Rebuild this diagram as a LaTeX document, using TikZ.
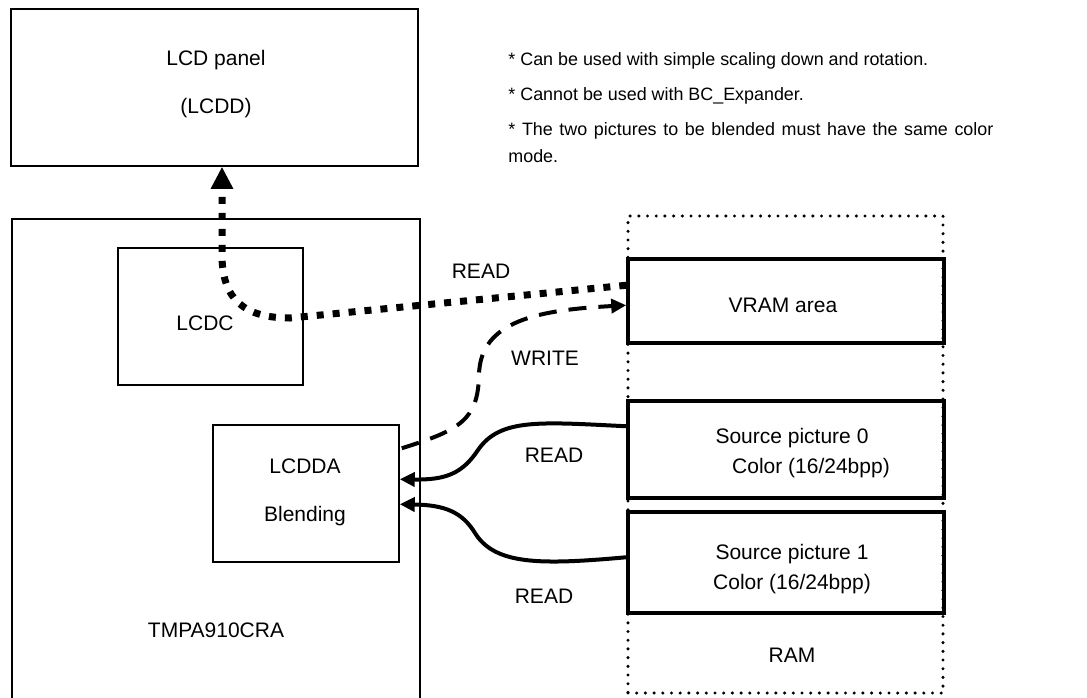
\documentclass[tikz,border=0pt]{standalone}
\usepackage{fontspec}
\setmainfont{Liberation Sans}
\usetikzlibrary{arrows.meta,fit}
\begin{document}
\begin{tikzpicture}[x=0.5pt,y=-0.5pt,
  thinbox/.style={draw, line width=0.75pt, inner sep=0pt},
  thickbox/.style={draw, line width=1.75pt, inner sep=0pt},
  rambox/.style={draw, line width=1.7pt, dash pattern=on 0pt off 4.35pt, line cap=round, inner sep=0pt},
  lbl/.style={font=\fontsize{10.5}{12}\selectfont, inner sep=0pt, anchor=base},
  note/.style={font=\fontsize{8.95}{10}\selectfont, inner sep=0pt, anchor=base west},
  readline/.style={line width=2pt, -{Triangle[length=7.5pt,width=7pt]}},
  writeline/.style={line width=2pt, dash pattern=on 9pt off 6pt, -{Triangle[length=7.5pt,width=7pt]}},
  lcdline/.style={line width=3.5pt, dash pattern=on 3.5pt off 4.5pt, -{Triangle[length=11pt,width=10.5pt]}},
]
\useasboundingbox (0,0) rectangle (1087,697);

% boxes
\node[thinbox, fit={(11,9) (418,166)}] (lcd) {};
\node[thinbox, fit={(12,219) (420,700)}] (tmpa) {};
\node[thinbox, fit={(118,248) (303,385)}] (lcdc) {};
\node[thinbox, fit={(213,425) (399,562)}] (lcdda) {};
\node[rambox, fit={(628,216) (943,693)}] (ram) {};
\node[thickbox, fit={(628,259) (944,343)}] (vram) {};
\node[thickbox, fit={(628,401) (944,498)}] (src0) {};
\node[thickbox, fit={(628,512) (944,613)}] (src1) {};

% labels
\node[lbl] (t-lcd1) at (216,65) {LCD panel};
\node[lbl] (t-lcd2) at (216,113) {(LCDD)};
\node[lbl] (t-lcdc) at (205,330) {LCDC};
\node[lbl] (t-lcdda) at (305,473) {LCDDA};
\node[lbl] (t-blend) at (305,521) {Blending};
\node[lbl] (t-tmpa) at (216,637) {TMPA910CRA};
\node[lbl] (t-vram) at (783,312) {VRAM area};
\node[lbl] (t-s0a) at (792,443) {Source picture 0};
\node[lbl] (t-s0b) at (811,473) {Color (16/24bpp)};
\node[lbl] (t-s1a) at (792,559) {Source picture 1};
\node[lbl] (t-s1b) at (792,589) {Color (16/24bpp)};
\node[lbl] (t-ram) at (792,662) {RAM};
\node[lbl] (t-read1) at (481,278) {READ};
\node[lbl] (t-write) at (545,365) {WRITE};
\node[lbl] (t-read2) at (554,462) {READ};
\node[lbl] (t-read3) at (544,603) {READ};

% notes
\node[note] (n1) at (508,65) {* Can be used with simple scaling down and rotation.};
\node[note] (n2) at (508,100) {* Cannot be used with BC\_Expander.};
\node[note] (n3) at (508,135) {\makebox[242.5pt][s]{* The two pictures to be blended must have the same color}};
\node[note] (n4) at (508,162) {mode.};

% connectors
\draw[lcdline] ([shift={(0,28)}]vram.north west) -- (290,318)
  .. controls (245,318) and (222,300) .. (222,255) -- ([shift={(7.5,0)}]lcd.south);
\draw[writeline] ([shift={(2,24)}]lcdda.north east)
  .. controls (460,430) and (478,420) .. (479,375)
  .. controls (480,320) and (540,310) .. ([shift={(0,48)}]vram.north west);
\draw[readline] ([shift={(0,27)}]src0.north west)
  .. controls (540,422) and (500,418) .. (478,450)
  .. controls (462,474) and (445,480) .. ([shift={(0,55)}]lcdda.north east);
\draw[readline] ([shift={(0,47)}]src1.north west)
  .. controls (540,565) and (495,565) .. (475,533)
  .. controls (462,512) and (445,505) .. ([shift={(0,80)}]lcdda.north east);
\end{tikzpicture}
\end{document}
